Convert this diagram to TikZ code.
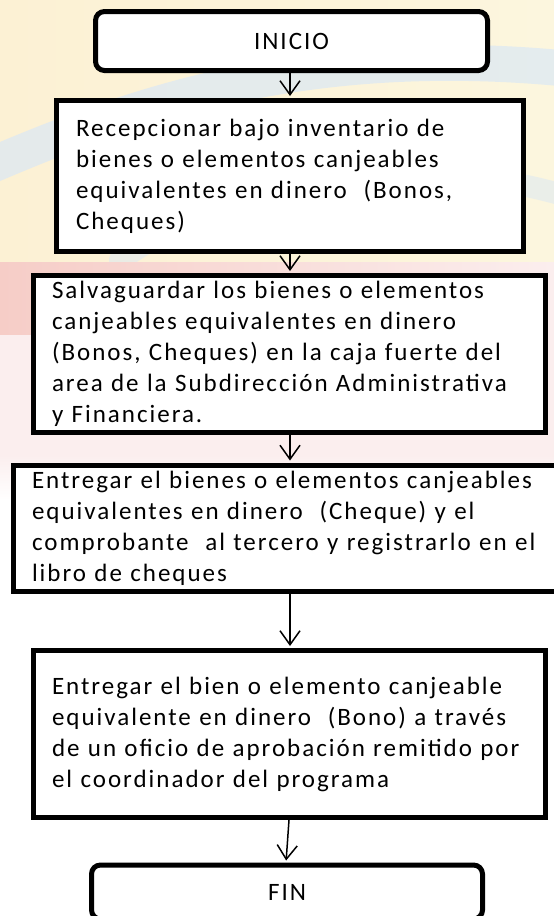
\documentclass[tikz,border=0pt]{standalone}
\usepackage{fontspec}
\setmainfont{Carlito}[LetterSpace=8, WordSpace=0.55]
\usetikzlibrary{arrows.meta}
\definecolor{bgyel}{RGB}{252,241,212}
\definecolor{bgyel2}{RGB}{252,246,222}
\definecolor{bgblue}{RGB}{218,232,245}
\definecolor{bgred}{RGB}{246,205,199}
\definecolor{bgpink}{RGB}{251,238,238}
\begin{document}
\begin{tikzpicture}[x=1pt,y=-1pt,
  box/.style={draw=black, line width=5pt, fill=white, inner sep=0pt,
    font=\fontsize{25}{31}\selectfont, align=left},
  term/.style={box, rounded corners=9pt, align=center},
  arr/.style={draw=black, line width=1.5pt,
    -{Straight Barb[length=14pt,width=20pt]}, shorten >=2pt}]
\useasboundingbox (0,0) rectangle (554,916);
\begin{scope}
\clip (0,0) rectangle (554,916);
% faint background watermark
\fill[white] (0,0) rectangle (554,916);
\shade[left color=bgyel, right color=bgyel2] (0,0) rectangle (554,262);
\draw[bgblue, line width=36pt, opacity=0.7, line cap=round]
  (-20,170) .. controls (120,110) and (300,40) .. (580,70);
\draw[bgblue, line width=22pt, opacity=0.5, line cap=round]
  (120,260) .. controls (250,170) and (420,150) .. (580,200);
\shade[left color=bgred, right color=bgpink] (0,262) rectangle (554,335);
\fill[bgpink] (0,335) rectangle (554,455);
\shade[top color=bgpink, bottom color=white] (0,455) rectangle (554,500);

% nodes
\node[term, minimum width=392pt, minimum height=59pt] (inicio) at (291.5,41) {INICIO};
\node[box, text width=428pt, minimum width=467pt, minimum height=151pt] (b1) at (290,176)
  {Recepcionar bajo inventario de\\
   bienes o elementos canjeables\\
   equivalentes en dinero \ (Bonos,\\
   Cheques)};
\node[box, text width=475pt, minimum width=512pt, minimum height=157pt] (b2) at (289.5,354)
  {Salvaguardar los bienes o elementos\\
   canjeables equivalentes en dinero\\
   (Bonos, Cheques) en la caja fuerte del\\
   area de la Subdirección Administrativa\\
   y Financiera.};
\node[box, text width=516pt, minimum width=553pt, minimum height=126pt] (b3) at (290,528)
  {Entregar el bienes o elementos canjeables\\
   equivalentes en dinero \ (Cheque) y el\\
   comprobante \ al tercero y registrarlo en el\\
   libro de cheques};
\node[box, text width=475pt, minimum width=512pt, minimum height=167pt] (b4) at (289.5,734)
  {Entregar el bien o elemento canjeable\\
   equivalente en dinero \ (Bono) a través\\
   de un oficio de aprobación remitido por\\
   el coordinador del programa};
\node[term, minimum width=391pt, minimum height=54pt] (fin) at (287,892) {FIN};

% connectors
\draw[arr] (inicio.south -| b1.north) -- (b1.north);
\draw[arr] (b1.south) -- (b1.south |- b2.north);
\draw[arr] (b2.south -| b1.south) -- (b1.south |- b3.north);
\draw[arr] (b3.south) -- (b3.south |- b4.north);
\draw[arr] ([xshift=-0.5pt]b4.south) -- ([xshift=-1pt]fin.north);
\end{scope}
\end{tikzpicture}
\end{document}
